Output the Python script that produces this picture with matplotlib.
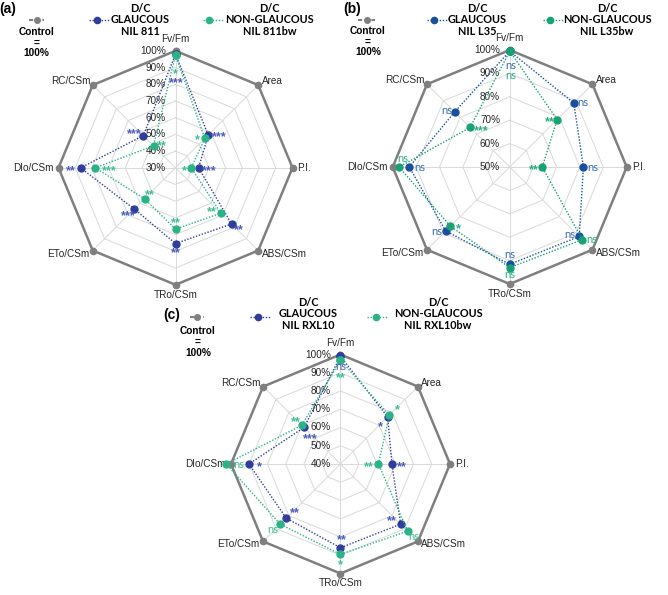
import numpy as np
import matplotlib
matplotlib.use('Agg')
import matplotlib.pyplot as plt
from matplotlib.lines import Line2D

W, H = 668, 595

# --- Data ---

CATEGORIES = ['Fv/Fm', 'Area', 'P.I.', 'ABS/CSm', 'TRo/CSm', 'ETo/CSm', 'DIo/CSm', 'RC/CSm']
CONTROL = [100, 100, 100, 100, 100, 100, 100, 100]

# (a) NIL 811
a_glaucous = [98, 57.7, 43.8, 77.5, 75.3, 64.9, 86.8, 57.2]
a_nonglaucous = [97.5, 54.8, 39.4, 68.4, 66.7, 56.2, 78, 48.6]
a_sig_glaucous = ['***', '***', '***', '**', '**', '***', '**', '***']
a_sig_nonglaucous = ['*', '*', '*', '**', '**', '**', '***', '**']
a_ticks = [100, 90, 80, 70, 60, 50, 40, 30]

# (b) NIL L35
b_glaucous = [99.5, 88.7, 81.5, 92, 91.6, 88.7, 92.9, 83.3]
b_nonglaucous = [99.5, 78.7, 63.9, 93.9, 93, 85.8, 97.3, 73.9]
b_sig_glaucous = ['ns', 'ns', 'ns', 'ns', 'ns', 'ns', 'ns', 'ns']
b_sig_nonglaucous = ['ns', '**', '**', 'ns', 'ns', '*', 'ns', '***']
b_ticks = [100, 90, 80, 70, 60, 50]

# (c) NIL RXL10
c_glaucous = [99, 76.5, 68.2, 86.6, 85.9, 82, 90.2, 68.3]
c_nonglaucous = [96.9, 77.8, 60.8, 92, 89.5, 86.7, 102.6, 70]
c_sig_glaucous = ['ns', '*', '**', '**', '**', '**', '*', '***']
c_sig_nonglaucous = ['**', '*', '**', 'ns', '*', 'ns', 'ns', '**']
c_ticks = [100, 90, 80, 70, 60, 50, 40]

# --- Styles / layout ---

NARROW = ['Liberation Sans Narrow', 'Liberation Sans']
CALIBRI = ['Lato', 'DejaVu Sans']
GRAY = '#7f7f7f'
GRID = '#d9d9d9'

PANELS = [
    dict(tag='(a)', name='NIL 811', name_bw='NIL 811bw',
         vals=(a_glaucous, a_nonglaucous), sigs=(a_sig_glaucous, a_sig_nonglaucous),
         ticks=a_ticks, center=(175.5, 167.8), radius=117,
         colors=('#2f3d9c', '#2bb386'), sig_colors=('#4b5cc0', '#3dbf92'),
         offs_g=[(1, 26), (11, -1), (10.5, 0), (7, 3), (0, 7), (-6, 4), (-10, 0), (-9, -4)],
         offs_n=[(0, 16), (-7, -1.5), (-6.5, 0), (-9, -4), (0, -9), (5, -7), (14, 0), (8, -3)],
         legend=dict(tag=(8, 9), ctrl=(29, 44, 36.7, 19.5), ctrl_txt=(36.7, 32),
                     blue=(89, 110, 96.7, 20), blue_txt=(140.5, 8),
                     green=(203, 223, 209, 20), green_txt=(269.5, 8))),
    dict(tag='(b)', name='NIL L35', name_bw='NIL L35bw',
         vals=(b_glaucous, b_nonglaucous), sigs=(b_sig_glaucous, b_sig_nonglaucous),
         ticks=b_ticks, center=(509.7, 167), radius=117,
         colors=('#1a4f9e', '#17a275'), sig_colors=('#3a6cb8', '#2aae82'),
         offs_g=[(1, 14), (9.5, 0), (9, 0), (-9.5, -2), (0, -9.5), (-8.5, 0), (10, 0), (-8, -1.5)],
         offs_n=[(1, 24), (-7, 0), (-8.5, 0), (9, 0), (0, 7), (7.5, 0), (4, -8.5), (11.5, 1)],
         legend=dict(tag=(352, 9), ctrl=(358, 375, 366.7, 19.5), ctrl_txt=(368, 31),
                     blue=(427, 447, 434, 20), blue_txt=(477.5, 8),
                     green=(543, 563, 550, 20), green_txt=(607, 8))),
    dict(tag='(c)', name='NIL RXL10', name_bw='NIL RXL10bw',
         vals=(c_glaucous, c_nonglaucous), sigs=(c_sig_glaucous, c_sig_nonglaucous),
         ticks=c_ticks, center=(340.5, 464), radius=109.5,
         colors=('#2f3d9c', '#2bb386'), sig_colors=('#4b5cc0', '#3dbf92'),
         offs_g=[(0, 10), (-7.7, 7.7), (10.3, 0), (-8.7, -6), (1, -10.6), (8.6, -8.3), (10, 0), (6, 8.3)],
         offs_n=[(0, 15), (8, -8.4), (-9.6, 0), (6.5, 5.3), (0, 8.3), (-7, 5.7), (12.5, 0), (-6, -5.7)],
         legend=dict(tag=(172, 315), ctrl=(190, 204, 196.7, 317), ctrl_txt=(198, 331.5),
                     blue=(250, 270, 257.7, 317), blue_txt=(308, 302),
                     green=(367, 387, 376, 317), green_txt=(438, 302))),
]

# category label offsets from the outer vertex (px right, px down) and alignment
CAT_OFFS = [(0, -12, 'center'), (3.5, -4, 'left'), (5, 0, 'left'), (3.5, 3, 'left'),
            (0, 10, 'center'), (-3.5, 3, 'right'), (-5, 0, 'right'), (-2, -4, 'right')]

PT = 0.72  # px -> points at dpi 100


def fx(x):
    return x / W


def fy(y):
    return 1 - y / H


def draw_radar(fig, p):
    cx, cy = p['center']
    r = p['radius']
    ax = fig.add_axes([fx(cx - r), fy(cy + r), 2 * r / W, 2 * r / H], projection='polar')
    ax.set_theta_zero_location('N')
    ax.set_theta_direction(-1)
    rmin = min(p['ticks'])
    ax.set_ylim(rmin, 100)
    ax.axis('off')

    theta = np.arange(len(CATEGORIES)) * 2 * np.pi / len(CATEGORIES)
    tclosed = np.append(theta, theta[0])

    # grid rings and spokes
    for lv in p['ticks']:
        if lv in (rmin, 100):
            continue
        ax.plot(tclosed, [lv] * len(tclosed), color=GRID, lw=0.7, clip_on=False, zorder=1)
    for t in theta:
        ax.plot([t, t], [rmin, 100], color=GRID, lw=0.7, clip_on=False, zorder=1)

    # control
    ax.plot(tclosed, np.append(CONTROL, CONTROL[0]), color=GRAY, lw=1.8,
            marker='o', ms=4.5, clip_on=False, zorder=3)

    # series
    for vals, col in zip(p['vals'], p['colors']):
        ax.plot(tclosed, np.append(vals, vals[0]), color=col, lw=1, ls=(0, (1, 1.2)),
                marker='o', ms=5, clip_on=False, zorder=4)

    # significance labels
    for vals, sigs, offs, col in zip(p['vals'], p['sigs'], (p['offs_g'], p['offs_n']), p['sig_colors']):
        for t, v, s, (dx, dy) in zip(theta, vals, sigs, offs):
            if s == 'ns':
                ax.annotate(s, (t, v), xytext=(dx * PT, -dy * PT), textcoords='offset points',
                            ha='center', va='center', fontsize=8, color=col,
                            family=CALIBRI, annotation_clip=False, zorder=5)
            else:
                ax.annotate(s, (t, v), xytext=(dx * PT, -(dy + 3) * PT), textcoords='offset points',
                            ha='center', va='center', fontsize=9, fontweight='bold', color=col,
                            family=['Liberation Sans'], annotation_clip=False, zorder=5)

    # category labels
    for t, name, (dx, dy, ha) in zip(theta, CATEGORIES, CAT_OFFS):
        ax.annotate(name, (t, 100), xytext=(dx * PT, -dy * PT), textcoords='offset points',
                    ha=ha, va='center', fontsize=7.2, family=NARROW, color='#262626',
                    annotation_clip=False)

    # radial tick labels
    for lv in p['ticks']:
        ax.annotate(f'{lv}%', (0, lv), xytext=(-9.5 * PT, 0), textcoords='offset points',
                    ha='right', va='center', fontsize=7.2, family=NARROW, color='#262626',
                    annotation_clip=False, zorder=2)
    return ax


def draw_legend(fig, p):
    lg = p['legend']
    fig.text(fx(lg['tag'][0]), fy(lg['tag'][1]), p['tag'], ha='center', va='center',
             fontsize=10, fontweight='bold', family=['Liberation Sans'])

    x0, x1, xm, y = lg['ctrl']
    fig.add_artist(Line2D([fx(x0), fx(x1)], [fy(y), fy(y)], color=GRAY, lw=1.5,
                          ls=(0, (2, 1.2)), transform=fig.transFigure))
    fig.add_artist(Line2D([fx(xm)], [fy(y)], color=GRAY, marker='o', ms=4,
                          transform=fig.transFigure))
    tx, ty = lg['ctrl_txt']
    for i, line in enumerate(['Control', '=', '100%']):
        fig.text(fx(tx), fy(ty + i * 10.7), line, ha='center', va='center', fontsize=7.3,
                 fontweight='bold', family=NARROW)

    labels = (['D/C', 'GLAUCOUS', p['name']], ['D/C', 'NON-GLAUCOUS', p['name_bw']])
    for key, col, lines in zip(('blue', 'green'), p['colors'], labels):
        x0, x1, xm, y = lg[key]
        fig.add_artist(Line2D([fx(x0), fx(x1)], [fy(y), fy(y)], color=col, lw=1,
                              ls=(0, (1, 1.2)), transform=fig.transFigure))
        fig.add_artist(Line2D([fx(xm)], [fy(y)], color=col, marker='o', ms=4.5,
                              transform=fig.transFigure))
        tx, ty = lg[key + '_txt']
        for i, line in enumerate(lines):
            fig.text(fx(tx), fy(ty + i * 11.7), line, ha='center', va='center', fontsize=7.8,
                     fontweight='bold', family=CALIBRI)


fig = plt.figure(figsize=(W / 100, H / 100), dpi=100)

for p in PANELS:
    draw_radar(fig, p)
    draw_legend(fig, p)

fig.savefig('out.png', dpi=100)
